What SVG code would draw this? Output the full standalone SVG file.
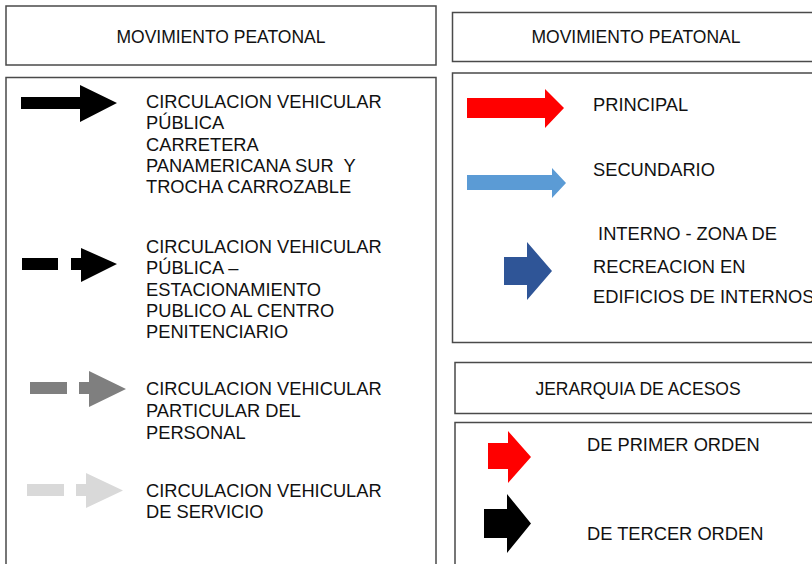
<svg xmlns="http://www.w3.org/2000/svg" width="812" height="564" viewBox="0 0 812 564">
<style>
.box{fill:#fff;stroke:#4a4a4a;stroke-width:1.5}
.t{font-family:"Liberation Sans",Arial,sans-serif;font-size:18.3px;fill:#111}
.h{font-family:"Liberation Sans",Arial,sans-serif;font-size:17.5px;fill:#111;text-anchor:middle}
</style>
<rect width="812" height="564" fill="#fff"/>
<g id="hdr-left"><rect class="box" x="6" y="6" width="430" height="59"/><text class="h" x="221" y="43">MOVIMIENTO PEATONAL</text></g>
<g id="hdr-right"><rect class="box" x="452.5" y="12.5" width="370" height="49"/><text class="h" x="636" y="43">MOVIMIENTO PEATONAL</text></g>
<g id="legend-left"><rect class="box" x="6" y="77.5" width="430" height="500"/></g>
<g id="legend-peatonal"><rect class="box" x="452.5" y="73" width="370" height="269.5"/></g>
<g id="hdr-jerarquia"><rect class="box" x="455" y="362.5" width="370" height="51"/><text class="h" x="638" y="395">JERARQUIA DE ACESOS</text></g>
<g id="legend-jerarquia"><rect class="box" x="455" y="422.5" width="370" height="200"/></g>

<g id="veh-publica">
<polygon points="21,97 80,97 80,85 117,103 80,122 80,109 21,109" fill="#000"/>
<text class="t" x="146" y="107.5">CIRCULACION VEHICULAR</text>
<text class="t" x="146" y="129">PÚBLICA</text>
<text class="t" x="146" y="150.5">CARRETERA</text>
<text class="t" x="146" y="171.5" xml:space="preserve">PANAMERICANA SUR  Y</text>
<text class="t" x="146" y="192.5">TROCHA CARROZABLE</text>
</g>
<g id="veh-estacionamiento">
<rect x="22" y="258" width="36" height="12" fill="#000"/>
<polygon points="71,258 81,258 81,248 117,264 81,282 81,270 71,270" fill="#000"/>
<text class="t" x="146" y="252.5">CIRCULACION VEHICULAR</text>
<text class="t" x="146" y="274">PÚBLICA –</text>
<text class="t" x="146" y="295.5">ESTACIONAMIENTO</text>
<text class="t" x="146" y="316.5">PUBLICO AL CENTRO</text>
<text class="t" x="146" y="338">PENITENCIARIO</text>
</g>
<g id="veh-particular">
<rect x="30" y="382" width="37" height="12" fill="#7f7f7f"/>
<polygon points="79,382 89,382 89,371 126,389 89,407 89,394 79,394" fill="#7f7f7f"/>
<text class="t" x="146" y="395">CIRCULACION VEHICULAR</text>
<text class="t" x="146" y="417">PARTICULAR DEL</text>
<text class="t" x="146" y="439">PERSONAL</text>
</g>
<g id="veh-servicio">
<rect x="27" y="484" width="37" height="12" fill="#d9d9d9"/>
<polygon points="76,484 86,484 86,473 123,490.5 86,508 86,496 76,496" fill="#d9d9d9"/>
<text class="t" x="146" y="497">CIRCULACION VEHICULAR</text>
<text class="t" x="146" y="518">DE SERVICIO</text>
</g>

<g id="peat-principal">
<polygon points="467,98 545,98 545,89 564,108 545,128 545,118 467,118" fill="#ff0000"/>
<text class="t" x="593" y="111">PRINCIPAL</text>
</g>
<g id="peat-secundario">
<polygon points="467,175 552,175 552,168 566,183 552,198 552,190 467,190" fill="#5b9bd5"/>
<text class="t" x="593" y="176">SECUNDARIO</text>
</g>
<g id="peat-interno">
<polygon points="504,257 527,257 527,242 552,271 527,300 527,285 504,285" fill="#2f5597"/>
<text class="t" x="593" y="240" xml:space="preserve"> INTERNO - ZONA DE</text>
<text class="t" x="593" y="272.5">RECREACION EN</text>
<text class="t" x="593" y="303">EDIFICIOS DE INTERNOS</text>
</g>

<g id="acc-primer">
<polygon points="488,443 508,443 508,431 531,457 508,483 508,469 488,469" fill="#ff0000"/>
<text class="t" x="587" y="451">DE PRIMER ORDEN</text>
</g>
<g id="acc-tercer">
<polygon points="484,509 507,509 507,494 531,523.5 507,553 507,538 484,538" fill="#000"/>
<text class="t" x="587" y="540">DE TERCER ORDEN</text>
</g>
<g id="connectors"></g>
</svg>
